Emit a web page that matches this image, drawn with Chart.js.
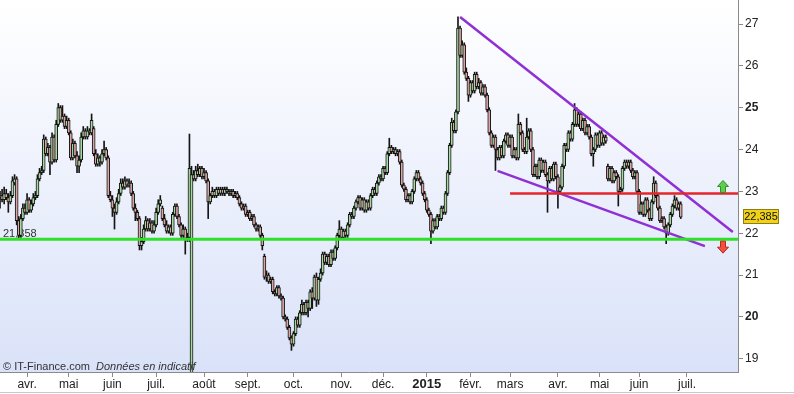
<!DOCTYPE html>
<html lang="fr">
<head>
<meta charset="utf-8">
<title>Cours</title>
<script src="https://cdn.jsdelivr.net/npm/chart.js@4.4.1/dist/chart.umd.min.js"></script>
<style>
  html, body { margin: 0; padding: 0; background: #fff; }
  canvas { display: block; }
</style>
</head>
<body>
<canvas id="priceChart" width="794" height="394"></canvas>
<script>
// Daily candles (trading day index 0 = first visible session)
const opens = [
  22.85, 22.9, 22.8, 22.95, 22.85, 22.75, 22.9, 23.2, 23.3, 22.3,
  21.95, 22.35, 22.6, 22.5, 22.8, 22.55, 22.7, 22.85, 22.9, 23.3,
  23.45, 23.5, 24.25, 23.9, 24.05, 23.7, 24.3, 23.75, 24.6, 25.0,
  24.7, 24.8, 24.55, 24.7, 24.4, 23.8, 24.15, 23.85, 23.6, 23.75,
  24.3, 24.45, 24.3, 24.45, 24.4, 24.5, 23.9, 23.65, 23.8, 23.7,
  23.9, 24.0, 23.8, 22.9, 22.8, 22.6, 22.5, 22.75, 22.95, 23.2,
  23.1, 23.25, 23.15, 23.2, 22.95, 22.6, 22.5, 22.35, 21.7, 21.8,
  22.1, 22.3, 22.1, 22.25, 22.05, 22.2, 22.5, 22.7, 22.6, 22.35,
  22.2, 22.05, 22.15, 22.0, 22.45, 22.65, 22.4, 22.2, 21.95, 22.1,
  21.85, 21.9, 18.3, 23.4, 23.3, 23.5, 23.4, 23.55, 23.35, 23.45,
  23.25, 22.75, 22.9, 23.0, 22.9, 23.05, 22.95, 23.05, 22.95, 23.05,
  23.0, 22.95, 23.0, 22.9, 22.95, 22.85, 22.7, 22.6, 22.65, 22.45,
  22.5, 22.35, 22.4, 22.2, 22.1, 22.15, 21.95, 21.45, 20.95, 21.0,
  20.85, 20.9, 20.6, 20.55, 20.7, 20.5, 20.45, 20.0, 19.95, 19.75,
  19.5, 19.35, 19.6, 19.95, 19.8, 20.1, 20.3, 20.1, 20.35, 20.2,
  20.6, 20.45, 20.95, 20.4, 20.9, 21.05, 21.5, 21.3, 21.45, 21.25,
  21.55, 21.4, 21.65, 21.95, 22.1, 21.9, 22.05, 21.95, 22.2, 22.45,
  22.4, 22.6, 22.75, 22.85, 22.6, 22.8, 22.55, 22.75, 22.6, 22.9,
  23.05, 22.95, 23.2, 23.35, 23.3, 23.55, 23.45, 23.9, 24.05, 23.95,
  24.0, 23.9, 23.95, 23.7, 23.15, 23.05, 22.8, 22.9, 22.75, 23.0,
  23.3, 23.45, 23.3, 23.2, 22.95, 22.8, 22.55, 22.45, 22.05, 22.3,
  22.15, 22.4, 22.35, 22.6, 22.5, 22.95, 23.45, 24.1, 24.65, 24.45,
  24.9, 26.9, 26.25, 26.5, 25.85, 25.7, 25.3, 25.6, 25.4, 25.8,
  25.5, 25.6, 25.35, 25.5, 25.3, 24.95, 24.4, 24.1, 24.3, 24.0,
  23.8, 24.05, 23.85, 24.2, 24.35, 24.1, 24.3, 23.85, 24.0, 23.8,
  24.6, 24.4, 24.0, 23.95, 24.3, 24.45, 24.0, 23.4, 23.6, 23.35,
  23.75, 23.5, 23.7, 23.4, 23.25, 23.55, 23.3, 23.65, 23.35, 23.0,
  23.1, 23.6, 24.1, 24.0, 24.4, 24.25, 24.6, 24.95, 24.6, 24.85,
  24.5, 24.7, 24.4, 24.55, 24.3, 23.9, 24.0, 24.35, 24.1, 24.4,
  24.15, 24.3, 23.6, 23.3, 23.55, 23.25, 23.45, 23.35, 23.0, 23.05,
  23.55, 23.7, 23.6, 23.7, 23.5, 23.35, 23.45, 23.0, 22.5, 22.7,
  22.45, 22.8, 22.55, 22.35, 22.75, 23.2, 22.9, 22.6, 22.3, 22.35,
  22.15, 22.0, 22.2, 22.45, 22.65, 22.8, 22.6, 22.7
];
const highs = [
  23.0, 23.05, 23.1, 23.05, 22.95, 23.0, 23.35, 23.4, 23.35, 22.4,
  22.45, 22.7, 22.7, 22.95, 22.85, 22.8, 22.95, 23.0, 23.4, 23.55,
  23.6, 24.35, 24.3, 24.15, 24.1, 24.4, 24.35, 24.7, 25.1, 25.05,
  25.05, 24.85, 24.8, 24.75, 24.45, 24.25, 24.2, 23.95, 23.85, 24.4,
  24.55, 24.5, 24.55, 24.5, 24.85, 24.55, 24.0, 23.9, 23.85, 24.0,
  24.2, 24.05, 23.85, 23.0, 22.9, 22.7, 22.85, 23.05, 23.3, 23.3,
  23.35, 23.3, 23.3, 23.25, 23.0, 22.7, 22.55, 22.4, 21.9, 22.2,
  22.4, 22.35, 22.35, 22.3, 22.3, 22.6, 22.8, 22.9, 22.65, 22.45,
  22.3, 22.2, 22.2, 22.5, 22.7, 22.7, 22.45, 22.25, 22.2, 22.15,
  22.0, 24.37, 23.6, 23.5, 23.6, 23.65, 23.6, 23.6, 23.55, 23.5,
  23.3, 22.95, 23.1, 23.05, 23.1, 23.1, 23.1, 23.1, 23.1, 23.1,
  23.05, 23.05, 23.05, 23.0, 23.0, 22.9, 22.75, 22.7, 22.7, 22.55,
  22.55, 22.45, 22.45, 22.25, 22.2, 22.2, 22.0, 21.5, 21.1, 21.05,
  20.95, 20.95, 20.65, 20.75, 20.75, 20.55, 20.5, 20.05, 20.0, 19.8,
  19.55, 19.65, 20.0, 20.0, 20.15, 20.4, 20.35, 20.4, 20.4, 20.65,
  20.7, 21.0, 21.05, 20.95, 21.15, 21.55, 21.55, 21.5, 21.5, 21.6,
  21.6, 21.7, 22.0, 22.3, 22.15, 22.1, 22.1, 22.25, 22.5, 22.5,
  22.65, 22.8, 22.9, 22.9, 22.85, 22.85, 22.8, 22.8, 22.95, 23.1,
  23.1, 23.25, 23.4, 23.4, 23.6, 23.6, 23.95, 24.27, 24.1, 24.05,
  24.05, 24.0, 24.0, 23.75, 23.2, 23.1, 22.95, 22.95, 23.05, 23.35,
  23.5, 23.5, 23.35, 23.25, 23.0, 22.85, 22.6, 22.5, 22.35, 22.35,
  22.45, 22.45, 22.65, 22.65, 23.0, 23.5, 24.15, 24.75, 24.7, 24.95,
  27.17, 26.95, 26.6, 26.55, 25.95, 25.75, 25.65, 25.65, 25.85, 25.85,
  25.7, 25.65, 25.55, 25.55, 25.35, 25.0, 24.45, 24.35, 24.35, 24.05,
  24.1, 24.1, 24.25, 24.4, 24.4, 24.35, 24.35, 24.05, 24.05, 24.85,
  24.65, 24.45, 24.05, 24.75, 24.5, 24.5, 24.05, 23.65, 23.65, 23.8,
  23.8, 23.75, 23.75, 23.45, 23.6, 23.6, 23.7, 23.7, 23.4, 23.15,
  23.65, 24.15, 24.15, 24.45, 24.45, 24.65, 25.1, 25.0, 24.9, 24.9,
  24.75, 24.75, 24.6, 24.6, 24.35, 24.05, 24.4, 24.4, 24.45, 24.45,
  24.35, 24.35, 23.65, 23.6, 23.6, 23.5, 23.5, 23.4, 23.1, 23.6,
  23.75, 23.75, 23.75, 23.75, 23.55, 23.5, 23.5, 23.05, 22.75, 22.75,
  22.85, 22.85, 22.6, 22.8, 23.35, 23.25, 22.95, 22.65, 22.4, 22.4,
  22.2, 22.25, 22.5, 22.7, 22.9, 22.85, 22.75, 22.75
];
const lows = [
  22.6, 22.75, 22.7, 22.8, 22.5, 22.7, 22.85, 23.15, 22.2, 21.86,
  21.9, 22.3, 22.45, 22.45, 22.5, 22.5, 22.65, 22.8, 22.85, 23.25,
  23.4, 23.45, 23.85, 23.85, 23.4, 23.65, 23.7, 23.7, 24.55, 24.65,
  24.65, 24.5, 24.5, 24.35, 23.75, 23.75, 23.8, 23.45, 23.45, 23.7,
  24.25, 24.25, 24.25, 24.35, 24.35, 23.85, 23.6, 23.6, 23.6, 23.65,
  23.85, 23.75, 22.85, 22.75, 22.4, 22.1, 22.45, 22.7, 22.9, 23.05,
  23.05, 23.1, 23.1, 22.9, 22.55, 22.3, 22.3, 21.6, 21.6, 21.75,
  22.05, 22.05, 22.05, 22.0, 22.0, 22.15, 22.45, 22.65, 22.3, 22.15,
  22.0, 22.0, 21.95, 21.95, 22.4, 22.35, 22.15, 21.9, 21.9, 21.5,
  21.8, 21.8, 18.3, 23.25, 23.25, 23.35, 23.35, 23.3, 23.3, 23.2,
  22.35, 22.7, 22.85, 22.85, 22.85, 22.9, 22.9, 22.9, 22.9, 22.95,
  22.9, 22.9, 22.85, 22.85, 22.8, 22.65, 22.55, 22.55, 22.4, 22.4,
  22.3, 22.3, 22.15, 22.05, 22.05, 21.9, 21.6, 20.9, 20.85, 20.8,
  20.8, 20.55, 20.5, 20.5, 20.45, 20.4, 19.95, 19.9, 19.7, 19.45,
  19.2, 19.3, 19.55, 19.75, 19.75, 20.05, 20.05, 20.05, 20.0, 20.15,
  20.2, 20.4, 20.25, 20.3, 20.85, 21.0, 21.25, 21.25, 21.2, 21.2,
  21.35, 21.35, 21.6, 21.9, 21.85, 21.85, 21.9, 21.9, 22.15, 22.35,
  22.35, 22.55, 22.7, 22.55, 22.55, 22.5, 22.5, 22.55, 22.55, 22.85,
  22.9, 22.9, 23.15, 23.25, 23.25, 23.4, 23.4, 23.85, 23.9, 23.9,
  23.85, 23.85, 23.65, 23.1, 23.0, 22.75, 22.75, 22.7, 22.7, 22.95,
  23.25, 23.25, 23.15, 22.9, 22.75, 22.5, 22.4, 21.75, 22.0, 22.1,
  22.1, 22.3, 22.3, 22.45, 22.45, 22.9, 23.4, 24.05, 24.4, 24.4,
  24.85, 26.2, 26.2, 25.8, 25.65, 25.15, 25.25, 25.35, 25.35, 25.45,
  25.45, 25.3, 25.3, 25.25, 24.9, 24.35, 24.05, 24.05, 23.5, 23.75,
  23.75, 23.8, 23.8, 24.15, 24.05, 24.05, 23.8, 23.8, 23.75, 23.75,
  24.35, 23.95, 23.9, 23.9, 24.25, 23.95, 23.35, 23.35, 23.3, 23.3,
  23.45, 23.45, 23.35, 22.5, 23.2, 23.25, 23.25, 23.3, 22.6, 22.95,
  23.05, 23.55, 23.95, 23.95, 24.2, 24.2, 24.55, 24.55, 24.55, 24.45,
  24.45, 24.35, 24.35, 24.25, 23.85, 23.6, 23.95, 24.05, 24.05, 24.1,
  24.1, 24.15, 23.25, 23.25, 23.2, 23.2, 23.3, 22.65, 22.95, 23.0,
  23.5, 23.55, 23.55, 23.45, 23.3, 23.3, 22.95, 22.45, 22.45, 22.4,
  22.4, 22.5, 22.3, 22.3, 22.7, 22.85, 22.55, 22.25, 22.25, 22.1,
  21.75, 21.95, 22.15, 22.4, 22.6, 22.55, 22.55, 22.35
];
const closes = [
  22.9, 22.8, 22.95, 22.85, 22.75, 22.9, 23.25, 23.3, 22.3, 21.95,
  22.35, 22.6, 22.5, 22.8, 22.55, 22.7, 22.85, 22.9, 23.3, 23.45,
  23.5, 24.25, 23.9, 24.05, 23.7, 24.3, 23.75, 24.6, 25.0, 24.7,
  24.8, 24.55, 24.7, 24.4, 23.8, 24.15, 23.85, 23.6, 23.75, 24.3,
  24.45, 24.3, 24.45, 24.4, 24.7, 23.9, 23.65, 23.8, 23.7, 23.9,
  24.0, 23.8, 22.9, 22.8, 22.6, 22.5, 22.75, 22.95, 23.2, 23.1,
  23.25, 23.15, 23.2, 22.95, 22.6, 22.5, 22.35, 21.7, 21.8, 22.1,
  22.3, 22.1, 22.25, 22.05, 22.2, 22.5, 22.7, 22.8, 22.35, 22.2,
  22.05, 22.15, 22.0, 22.45, 22.65, 22.4, 22.2, 21.95, 22.1, 21.85,
  21.9, 23.55, 23.4, 23.3, 23.5, 23.4, 23.55, 23.35, 23.45, 23.25,
  22.75, 22.9, 23.0, 22.9, 23.05, 22.95, 23.05, 22.95, 23.05, 23.0,
  22.95, 23.0, 22.9, 22.95, 22.85, 22.7, 22.6, 22.65, 22.45, 22.5,
  22.35, 22.4, 22.2, 22.1, 22.15, 21.95, 21.7, 20.95, 21.0, 20.85,
  20.9, 20.6, 20.55, 20.7, 20.5, 20.45, 20.0, 19.95, 19.75, 19.5,
  19.35, 19.6, 19.95, 19.8, 20.1, 20.3, 20.1, 20.35, 20.2, 20.6,
  20.45, 20.95, 20.4, 20.9, 21.05, 21.5, 21.3, 21.45, 21.25, 21.55,
  21.4, 21.65, 21.95, 22.1, 21.9, 22.05, 21.95, 22.2, 22.45, 22.4,
  22.6, 22.75, 22.85, 22.6, 22.8, 22.55, 22.75, 22.6, 22.9, 23.05,
  22.95, 23.2, 23.35, 23.3, 23.55, 23.45, 23.9, 24.05, 23.95, 24.0,
  23.9, 23.95, 23.7, 23.15, 23.05, 22.8, 22.9, 22.75, 23.0, 23.3,
  23.45, 23.3, 23.2, 22.95, 22.8, 22.55, 22.45, 22.05, 22.3, 22.15,
  22.4, 22.35, 22.6, 22.5, 22.95, 23.45, 24.1, 24.65, 24.45, 24.9,
  26.9, 26.25, 26.5, 25.85, 25.7, 25.3, 25.6, 25.4, 25.8, 25.5,
  25.6, 25.35, 25.5, 25.3, 24.95, 24.4, 24.1, 24.3, 24.0, 23.8,
  24.05, 23.85, 24.2, 24.35, 24.1, 24.3, 23.85, 24.0, 23.8, 24.6,
  24.4, 24.0, 23.95, 24.3, 24.45, 24.0, 23.4, 23.6, 23.35, 23.75,
  23.5, 23.7, 23.4, 23.25, 23.55, 23.3, 23.65, 23.35, 23.0, 23.1,
  23.6, 24.1, 24.0, 24.4, 24.25, 24.6, 24.95, 24.6, 24.85, 24.5,
  24.7, 24.4, 24.55, 24.3, 23.9, 24.0, 24.35, 24.1, 24.4, 24.15,
  24.3, 24.2, 23.3, 23.55, 23.25, 23.45, 23.35, 23.0, 23.05, 23.55,
  23.7, 23.6, 23.7, 23.5, 23.35, 23.45, 23.0, 22.5, 22.7, 22.45,
  22.8, 22.55, 22.35, 22.75, 23.2, 22.9, 22.6, 22.3, 22.35, 22.15,
  22.0, 22.2, 22.45, 22.65, 22.8, 22.6, 22.7, 22.385
];

// Month ticks (trading day index of the first session of each month)
const monthLabels = ['avr.', 'mai', 'juin', 'juil.', 'août', 'sept.', 'oct.', 'nov.', 'déc.', '2015', 'févr.', 'mars', 'avr.', 'mai', 'juin', 'juil.'];
const monthStarts = [13, 33, 54, 75, 98, 119, 141, 164, 184, 205, 226, 245, 268, 288, 307, 330];
const priceTicks = [19, 20, 21, 22, 23, 24, 25, 26, 27];

// Drawn levels and trend lines
const supportLevel = 21.858;
const resistanceLevel = 22.95;
const resistanceStart = 245;
const upperTrend = [{ x: 221, y: 27.17 }, { x: 352, y: 22.03 }];
const lowerTrend = [{ x: 239, y: 23.49 }, { x: 338.6, y: 21.69 }];

const xMax = 354.5;
const yMin = 18.683;
const yMax = 27.574;
const FONT = '"Liberation Sans", Arial, sans-serif';
Chart.defaults.font.family = FONT;

const lastClose = closes[closes.length - 1];
const fmt = v => v.toFixed(3).replace('.', ',');

const wickData = highs.map((h, i) => ({ x: i, y: [lows[i], h] }));
const bodyData = opens.map((o, i) => ({ x: i, y: [o, closes[i]] }));
const bodyColors = opens.map((o, i) => closes[i] >= o ? '#a8d9a2' : '#d9a5a5');

function drawArrow(ctx, cx, tipY, s, fill, stroke) {
    // s = 1 : points up, s = -1 : points down
    const pts = [[0, 0], [5.5, 6], [2.5, 6], [2.5, 12], [-2.5, 12], [-2.5, 6], [-5.5, 6]];
    ctx.beginPath();
    pts.forEach(([dx, dy], k) => {
        const px = cx + dx, py = tipY + s * dy;
        if (k === 0) ctx.moveTo(px, py); else ctx.lineTo(px, py);
    });
    ctx.closePath();
    ctx.fillStyle = fill;
    ctx.fill();
    ctx.strokeStyle = stroke;
    ctx.lineWidth = 1;
    ctx.stroke();
}

// axes keep exactly their fitted size, no extra edge padding
function fixAxis(size) {
    return s => {
        if (s.isHorizontal()) s.height = size; else s.width = size;
        s.paddingTop = 0;
        s.paddingBottom = 0;
        s.paddingLeft = 0;
        s.paddingRight = 0;
    };
}

const decorations = {
    id: 'decorations',
    beforeDraw(chart) {
        const { ctx, chartArea: a } = chart;
        ctx.save();
        ctx.fillStyle = '#ffffff';
        ctx.fillRect(0, 0, chart.width, chart.height);
        const g = ctx.createLinearGradient(0, a.top, 0, a.bottom);
        g.addColorStop(0, '#ffffff');
        g.addColorStop(1, '#dae2f9');
        ctx.fillStyle = g;
        ctx.fillRect(a.left, a.top, a.right - a.left, a.bottom - a.top);
        ctx.strokeStyle = '#c9c9c9';
        ctx.lineWidth = 1;
        ctx.beginPath();
        ctx.moveTo(0, chart.height - 1.5);
        ctx.lineTo(chart.width, chart.height - 1.5);
        ctx.stroke();
        ctx.restore();
    },
    beforeDatasetsDraw(chart) {
        const { ctx } = chart;
        const y = chart.scales.y.getPixelForValue(supportLevel);
        ctx.save();
        ctx.font = '11px ' + FONT;
        ctx.fillStyle = '#333';
        ctx.textBaseline = 'alphabetic';
        ctx.fillText(fmt(supportLevel), 3, y - 2.5);
        ctx.restore();
    },
    afterDraw(chart) {
        const { ctx, scales: { x, y }, chartArea: a } = chart;
        ctx.save();

        // breakout arrows
        const ax = x.getPixelForValue(347.3);
        drawArrow(ctx, ax, y.getPixelForValue(resistanceLevel) - 13, 1, '#5fcc4f', '#2f8f2a');
        drawArrow(ctx, ax, y.getPixelForValue(supportLevel) + 14, -1, '#f2503c', '#b52a1c');

        // last price box
        const ly = Math.round(y.getPixelForValue(lastClose));
        ctx.fillStyle = '#f1d21a';
        ctx.fillRect(a.right + 5.5, ly - 7.5, 35, 14);
        ctx.strokeStyle = '#8d7d12';
        ctx.strokeRect(a.right + 5.5, ly - 7.5, 35, 14);
        ctx.font = '11px ' + FONT;
        ctx.fillStyle = '#111';
        ctx.textBaseline = 'middle';
        ctx.textAlign = 'center';
        ctx.fillText(fmt(lastClose), a.right + 23, ly);

        // source text
        ctx.textAlign = 'left';
        ctx.textBaseline = 'alphabetic';
        ctx.fillStyle = '#333';
        ctx.font = '11px ' + FONT;
        const src = '\u00A9 IT-Finance.com';
        ctx.fillText(src, 3, a.bottom - 2);
        const w = ctx.measureText(src).width;
        ctx.font = 'italic 11px ' + FONT;
        ctx.fillText('Données en indicatif', 3 + w + 6, a.bottom - 2);
        ctx.restore();
    }
};

const ctx = document.getElementById('priceChart').getContext('2d');
const priceChart = new Chart(ctx, {
    type: 'bar',
    data: {
        datasets: [
            {
                type: 'line',
                data: [{ x: 0, y: supportLevel }, { x: xMax, y: supportLevel }],
                borderColor: '#2fe02a',
                borderWidth: 3,
                pointRadius: 0,
                order: 0
            },
            {
                type: 'line',
                data: [{ x: resistanceStart, y: resistanceLevel }, { x: xMax, y: resistanceLevel }],
                borderColor: '#e4262a',
                borderWidth: 2.5,
                pointRadius: 0,
                order: 0
            },
            {
                type: 'line',
                data: upperTrend,
                borderColor: '#8f2fd4',
                borderWidth: 2.5,
                pointRadius: 0,
                order: 0
            },
            {
                type: 'line',
                data: lowerTrend,
                borderColor: '#8f2fd4',
                borderWidth: 2.5,
                pointRadius: 0,
                order: 0
            },
            {
                data: bodyData,
                backgroundColor: bodyColors,
                borderColor: '#151515',
                borderWidth: 1,
                borderSkipped: false,
                barThickness: 3,
                grouped: false,
                order: 1
            },
            {
                data: wickData,
                backgroundColor: '#151515',
                borderWidth: 0,
                barThickness: 1,
                grouped: false,
                order: 2
            }
        ]
    },
    options: {
        responsive: false,
        animation: false,
        events: [],
        layout: { padding: 0, autoPadding: false },
        plugins: {
            legend: { display: false },
            tooltip: { enabled: false }
        },
        scales: {
            x: {
                type: 'linear',
                min: 0,
                max: xMax,
                offset: false,
                afterBuildTicks: s => { s.ticks = monthStarts.map(v => ({ value: v })); },
                afterFit: fixAxis(22),
                grid: { offset: false, drawOnChartArea: false, drawTicks: true, tickLength: 5, color: '#8a8a8a' },
                border: { display: true, color: '#8a8a8a' },
                ticks: {
                    autoSkip: false,
                    maxRotation: 0,
                    padding: 0,
                    color: '#222',
                    callback: (v, i) => monthLabels[i],
                    font: c => monthLabels[c.index] === '2015'
                        ? { size: 13, weight: 'bold' }
                        : { size: 12, weight: 'normal' }
                }
            },
            y: {
                position: 'right',
                min: yMin,
                max: yMax,
                afterBuildTicks: s => { s.ticks = priceTicks.map(v => ({ value: v })); },
                afterFit: fixAxis(56),
                grid: { offset: false, drawOnChartArea: false, drawTicks: true, tickLength: 5, color: '#8a8a8a' },
                border: { display: true, color: '#8a8a8a' },
                ticks: {
                    padding: 2,
                    color: '#222',
                    callback: v => String(v),
                    font: c => ({ size: 12, weight: c.tick && c.tick.value % 5 === 0 ? 'bold' : 'normal' })
                }
            }
        }
    },
    plugins: [decorations]
});
</script>
</body>
</html>
